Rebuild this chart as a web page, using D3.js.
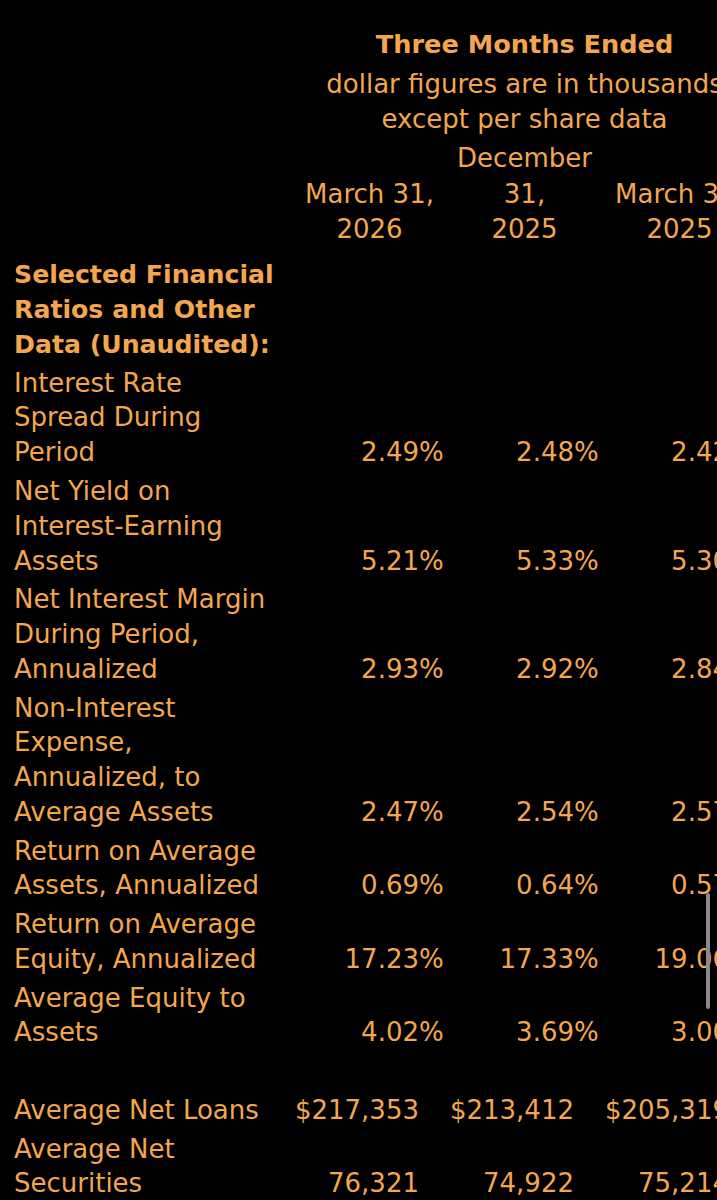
<!DOCTYPE html>
<meta charset="utf-8">
<script src="https://d3js.org/d3.v7.min.js"></script>
<style>
  html, body { margin: 0; padding: 0; background: #000; overflow: hidden; }
  text { font-family: "DejaVu Sans", Verdana, sans-serif; fill: #f4a64e; }
</style>
<body>
<div id="my_table"></div>

<script>
// table content
var title = "Three Months Ended";
var subtitle = ["dollar figures are in thousands", "except per share data"];
var periods = ["March 31,\n2026", "December\n31,\n2025", "March 31,\n2025"];
var sectionTitle = "Selected Financial\nRatios and Other\nData (Unaudited):";
var rowLabels = [
  "Interest Rate\nSpread During\nPeriod",
  "Net Yield on\nInterest-Earning\nAssets",
  "Net Interest Margin\nDuring Period,\nAnnualized",
  "Non-Interest\nExpense,\nAnnualized, to\nAverage Assets",
  "Return on Average\nAssets, Annualized",
  "Return on Average\nEquity, Annualized",
  "Average Equity to\nAssets",
  "",
  "Average Net Loans",
  "Average Net\nSecurities"
];
var rowKinds = ["pct", "pct", "pct", "pct", "pct", "pct", "pct", "blank", "usd", "num"];
var mar2026 = [2.49, 5.21, 2.93, 2.47, 0.69, 17.23, 4.02, null, 217353, 76321];
var dec2025 = [2.48, 5.33, 2.92, 2.54, 0.64, 17.33, 3.69, null, 213412, 74922];
var mar2025 = [2.42, 5.30, 2.84, 2.57, 0.57, 19.06, 3.00, null, 205319, 75214];

var width = 717, height = 1200;
var lineH = 34.8, rowGap = 3.9;

var svg = d3.select("#my_table")
  .append("svg")
    .attr("width", width)
    .attr("height", height);

svg.append("rect").attr("width", width).attr("height", height).attr("fill", "#000");

// columns (the table runs past the right edge, like the screenshot)
var x = d3.scaleBand()
  .domain(periods)
  .range([292, 292 + 155 * periods.length]);
var numRight = function(p) { return x(p) + 127; };
var colMid = function(p) { return x(p) + x.bandwidth() / 2; };

// header
var headMid = (x.range()[0] + x.range()[1]) / 2;
svg.append("text")
  .attr("x", headMid).attr("y", 53)
  .attr("text-anchor", "middle")
  .attr("font-size", 25.6).attr("font-weight", "bold")
  .text(title);

svg.selectAll(".sub")
  .data(subtitle)
  .enter().append("text")
    .attr("class", "sub")
    .attr("x", headMid)
    .attr("y", function(d, i) { return 93 + i * 35; })
    .attr("text-anchor", "middle")
    .attr("font-size", 26)
    .text(function(d) { return d; });

var colHead = svg.selectAll(".colhead")
  .data(periods)
  .enter().append("text")
    .attr("class", "colhead")
    .attr("text-anchor", "middle")
    .attr("font-size", 26);
colHead.each(function(p) {
  var lines = p.split("\n");
  d3.select(this).selectAll("tspan")
    .data(lines)
    .enter().append("tspan")
      .attr("x", colMid(p))
      .attr("y", function(d, i) { return 238 - (lines.length - 1 - i) * 35.5; })
      .text(function(d) { return d; });
});

// body rows: section title first, then the data rows
var rows = [{label: sectionTitle, kind: "section"}].concat(rowLabels.map(function(l, i) {
  return {label: l, kind: rowKinds[i], vals: [mar2026[i], dec2025[i], mar2025[i]]};
}));
var lineNo = 0;
rows.forEach(function(r, i) {
  r.lines = r.kind === "blank" ? [""] : r.label.split("\n");
  r.first = lineNo;
  r.gap = i;
  lineNo += r.lines.length;
});

var yLine = d3.scaleLinear().domain([0, 1]).range([283.3, 283.3 + lineH]);
var yOf = function(r, k) { return yLine(r.first + k) + r.gap * rowGap; };

var fmtPct = d3.format(".2f"),
    fmtUsd = d3.format("$,"),
    fmtNum = d3.format(",");

var row = svg.selectAll(".row")
  .data(rows)
  .enter().append("g")
    .attr("class", "row");

row.append("text")
  .attr("font-size", function(d) { return d.kind === "section" ? 25.2 : 26; })
  .attr("font-weight", function(d) { return d.kind === "section" ? "bold" : "normal"; })
  .each(function(r) {
    d3.select(this).selectAll("tspan")
      .data(r.lines)
      .enter().append("tspan")
        .attr("x", 14)
        .attr("y", function(d, k) { return yOf(r, k); })
        .text(function(d) { return d; });
  });

row.filter(function(d) { return d.vals && d.kind !== "blank"; })
  .each(function(r) {
    var g = d3.select(this);
    var yy = yOf(r, r.lines.length - 1);
    periods.forEach(function(p, j) {
      var v = r.vals[j];
      var s = r.kind === "pct" ? fmtPct(v) : r.kind === "usd" ? fmtUsd(v) : fmtNum(v);
      g.append("text")
        .attr("x", numRight(p)).attr("y", yy)
        .attr("text-anchor", "end")
        .attr("font-size", 26)
        .text(s);
      if (r.kind === "pct") {
        g.append("text")
          .attr("x", numRight(p)).attr("y", yy)
          .attr("font-size", 26)
          .text("%");
      }
    });
  });

// scroll indicator
svg.append("rect")
  .attr("x", 706).attr("y", 893)
  .attr("width", 4).attr("height", 116)
  .attr("rx", 2)
  .attr("fill", "#8a8a8a");
</script>
</body>
